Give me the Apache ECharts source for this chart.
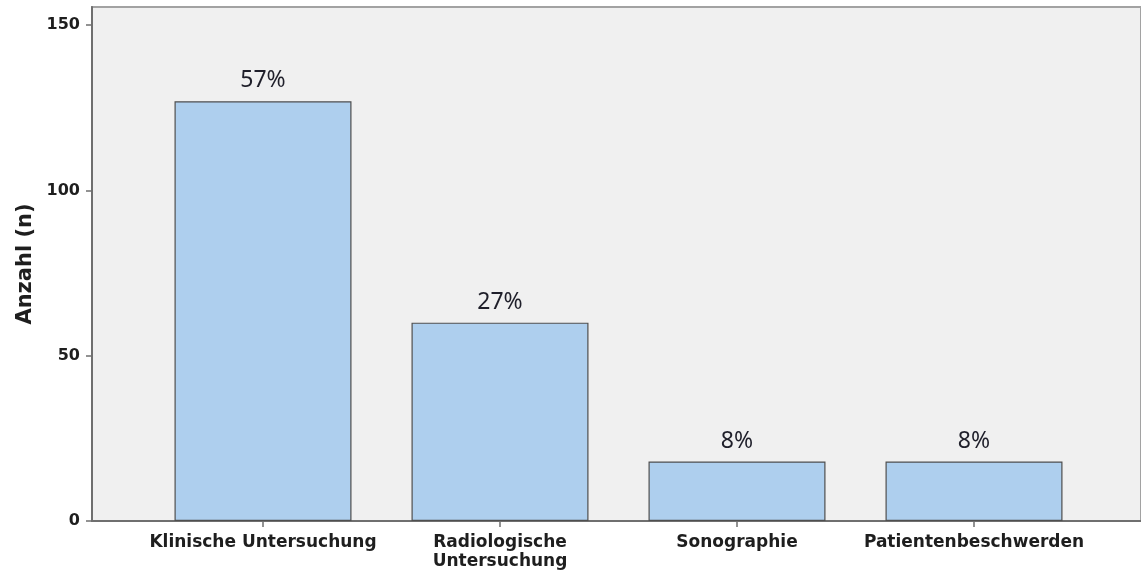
<!DOCTYPE html>
<html>
<head>
<meta charset="utf-8">
<title>Anzahl (n)</title>
<script src="https://cdn.jsdelivr.net/npm/echarts@6/dist/echarts.min.js"></script>
<style>
  html, body { margin: 0; padding: 0; background: #ffffff; }
  #chart { width: 1141px; height: 576px; }
</style>
</head>
<body>
<div id="chart"></div>
<script>
// Categories and counts
const categories = ['Klinische Untersuchung', 'Radiologische\nUntersuchung', 'Sonographie', 'Patientenbeschwerden'];
const counts = [127, 60, 18, 18];
const yTicks = [0, 50, 100, 150];
const yMax = 155.5;

const total = counts.reduce((a, b) => a + b, 0);
const pct = v => Math.round(v / total * 100) + '%';

const axisGray = '#6f6f6f';
const tickFont = { fontFamily: 'DejaVu Sans', fontWeight: 'bold', fontSize: 16, color: '#1e1e1e' };
const catFont = { fontFamily: 'DejaVu Sans', fontWeight: 'bold', fontSize: 17, color: '#1e1e1e' };

const chart = echarts.init(document.getElementById('chart'), null, { renderer: 'canvas' });

chart.setOption({
  animation: false,
  backgroundColor: '#ffffff',
  grid: [
    // plot panel with both axis lines; its right edge runs past the canvas
    { left: 92, top: 7, right: -5, bottom: 55, show: true, backgroundColor: '#f0f0f0', borderColor: '#a2a2a2', borderWidth: 2 },
    // band area holding the bars
    { left: 144.5, width: 948, top: 7, bottom: 55 }
  ],
  xAxis: [
    {
      gridIndex: 0, type: 'value', min: 0, max: 1,
      axisLine: { show: true, lineStyle: { color: axisGray, width: 2 } },
      axisTick: { show: false }, axisLabel: { show: false }, splitLine: { show: false }
    },
    {
      gridIndex: 1, type: 'category', data: categories,
      axisLine: { show: false },
      axisTick: { show: true, alignWithLabel: true, length: 6, lineStyle: { color: axisGray, width: 1.5 } },
      axisLabel: Object.assign({ interval: 0, margin: 12, lineHeight: 19 }, catFont),
      splitLine: { show: false }
    }
  ],
  yAxis: [
    {
      gridIndex: 0, type: 'value', min: 0, max: yMax, interval: 50,
      name: 'Anzahl (n)', nameLocation: 'middle', nameGap: 55,
      nameTextStyle: { fontFamily: 'DejaVu Sans', fontWeight: 'bold', fontSize: 21, color: '#1e1e1e' },
      axisLine: { show: true, lineStyle: { color: axisGray, width: 2 } },
      axisTick: { show: true, length: 6, customValues: yTicks, lineStyle: { color: axisGray, width: 1.5 } },
      axisLabel: Object.assign({ margin: 12, customValues: yTicks }, tickFont),
      splitLine: { show: false }
    },
    {
      gridIndex: 1, type: 'value', min: 0, max: yMax, show: false,
      splitLine: { show: false }
    }
  ],
  series: [
    {
      type: 'bar',
      xAxisIndex: 1, yAxisIndex: 1,
      data: counts,
      barWidth: 177,
      itemStyle: { color: '#aecfee', borderColor: '#4f4f4f', borderWidth: 1.2 },
      label: {
        show: true, position: 'top', distance: 9,
        formatter: p => pct(p.value),
        fontFamily: 'Noto Sans', fontSize: 23, color: '#1f1f2a'
      }
    }
  ]
});
</script>
</body>
</html>
